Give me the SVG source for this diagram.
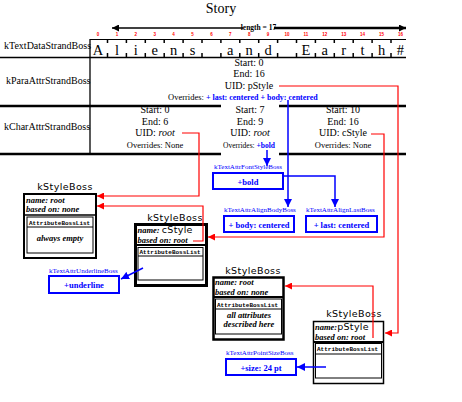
<svg xmlns="http://www.w3.org/2000/svg" width="462" height="402" viewBox="0 0 462 402">
<style>
.s{font-family:"Liberation Serif","Times New Roman",serif;fill:#000}
.lbl{font-size:10px}
.c{text-anchor:middle}
.f10{font-size:10px}
.f85{font-size:8.5px}
.it{font-style:italic}
.b{font-weight:bold}
.idx{font-family:"Liberation Sans",Arial,sans-serif;font-size:4.5px;font-weight:bold;fill:#ff0000;text-anchor:middle}
.ch{font-family:"Liberation Serif",serif;font-size:14.5px;text-anchor:middle;fill:#000}
.ks{font-family:"DejaVu Sans",sans-serif;font-size:9.5px;letter-spacing:0.4px;text-anchor:middle;fill:#000}
.nm{font-family:"Liberation Serif",serif;font-style:italic;font-weight:bold;font-size:8.5px;fill:#000}
.sn{font-family:"DejaVu Sans",sans-serif;font-style:normal;font-weight:normal;font-size:9.5px;letter-spacing:0.3px}
.abl{font-family:"Liberation Mono","Courier New",monospace;font-weight:bold;font-size:6px;fill:#000}
.bl{font-family:"Liberation Serif",serif;font-size:7px;fill:#0000ff}
.bt{font-family:"Liberation Serif",serif;font-size:8.5px;font-weight:bold;fill:#0000ff;text-anchor:middle}
.bbox{fill:none;stroke:#0000ff;stroke-width:2}
.red{fill:none;stroke:#ff0000;stroke-width:1.2}
.blue{fill:none;stroke:#0000ff;stroke-width:1.5}
.line{stroke:#000;fill:none}
.tick{stroke:#000;stroke-width:1.5}
</style>
<defs>
<marker id="ar" viewBox="0 0 10 10" refX="10" refY="5" markerWidth="7" markerHeight="7" orient="auto" markerUnits="userSpaceOnUse"><path d="M0,0 L10,5 L0,10 z" fill="#ff0000"/></marker>
<marker id="ab" viewBox="0 0 10 10" refX="10" refY="5" markerWidth="8" markerHeight="8" orient="auto" markerUnits="userSpaceOnUse"><path d="M0,0 L10,5 L0,10 z" fill="#0000ff"/></marker>
<marker id="ak" viewBox="0 0 10 10" refX="10" refY="5" markerWidth="8" markerHeight="7" orient="auto" markerUnits="userSpaceOnUse"><path d="M0,0 L10,5 L0,10 z" fill="#000"/></marker>
</defs>
<rect width="462" height="402" fill="#fff"/>

<g id="story">
<text class="s" x="221" y="13" text-anchor="middle" font-size="14">Story</text>
<line x1="243" y1="28" x2="112" y2="28" stroke="#000" stroke-width="1.5" marker-end="url(#ak)"/>
<line x1="274" y1="28" x2="406" y2="28" stroke="#000" stroke-width="2.5" marker-end="url(#ak)"/>
<text class="s b" x="258.5" y="30" text-anchor="middle" font-size="7.5">length = 17</text>
<g>
<text class="idx" x="98" y="36">0</text><text class="idx" x="116.9" y="36">1</text><text class="idx" x="135.8" y="36">2</text><text class="idx" x="154.7" y="36">3</text><text class="idx" x="173.6" y="36">4</text><text class="idx" x="192.5" y="36">5</text><text class="idx" x="211.4" y="36">6</text><text class="idx" x="230.3" y="36">7</text><text class="idx" x="249.2" y="36">8</text><text class="idx" x="268.1" y="36">9</text><text class="idx" x="287" y="36">10</text><text class="idx" x="305.9" y="36">11</text><text class="idx" x="324.8" y="36">12</text><text class="idx" x="343.7" y="36">13</text><text class="idx" x="362.6" y="36">14</text><text class="idx" x="381.5" y="36">15</text><text class="idx" x="400.4" y="36">16</text>
</g>
<g>
<text class="ch" x="98" y="55">A</text><text class="ch" x="116.9" y="55">l</text><text class="ch" x="135.8" y="55">i</text><text class="ch" x="154.7" y="55">e</text><text class="ch" x="173.6" y="55">n</text><text class="ch" x="192.5" y="55">s</text><text class="ch" x="230.3" y="55">a</text><text class="ch" x="249.2" y="55">n</text><text class="ch" x="268.1" y="55">d</text><text class="ch" x="305.9" y="55">E</text><text class="ch" x="324.8" y="55">a</text><text class="ch" x="343.7" y="55">r</text><text class="ch" x="362.6" y="55">t</text><text class="ch" x="381.5" y="55">h</text><text class="ch" x="400.4" y="55" fill="#888">#</text>
</g>
<path class="tick" d="M107.5 39v4M126.4 39v4M145.3 39v4M164.2 39v4M183.1 39v4M202 39v4M220.9 39v4M239.8 39v4M258.7 39v4M277.6 39v4M296.5 39v4M315.4 39v4M334.3 39v4M353.2 39v4M372.1 39v4M391 39v4M107.5 53v4M126.4 53v4M145.3 53v4M164.2 53v4M183.1 53v4M202 53v4M220.9 53v4M239.8 53v4M258.7 53v4M277.6 53v4M296.5 53v4M315.4 53v4M334.3 53v4M353.2 53v4M372.1 53v4M391 53v4"/>
<line class="line" x1="90" y1="39.5" x2="406" y2="39.5" stroke-width="1"/>
<line class="line" x1="0" y1="57.5" x2="406" y2="57.5" stroke-width="1.5"/>
<line class="line" x1="90" y1="39" x2="90" y2="154" stroke-width="1.3"/>
<path class="line" stroke-width="2.5" d="M0 106H221M279 106H406M0 154H221M279 154H406"/>
<text class="s lbl" x="4" y="49">kTextDataStrandBoss</text>
<text class="s lbl" x="6" y="84">kParaAttrStrandBoss</text>
<text class="s lbl" x="4" y="130">kCharAttrStrandBoss</text>
</g>

<g id="para">
<text class="s f10 c" x="249" y="65.5">Start: 0</text>
<text class="s f10 c" x="249" y="77">End: 16</text>
<text class="s f10 c" x="249" y="88.5">UID: pStyle</text>
<text class="s f85" x="168" y="100">Overrides:  <tspan fill="#0000ff" font-weight="bold" font-size="8">+ last: centered + body: centered</tspan></text>
</g>

<g id="char1">
<text class="s f10 c" x="155" y="113">Start: 0</text>
<text class="s f10 c" x="155" y="124.5">End: 6</text>
<text class="s f10 c" x="155" y="136">UID: <tspan class="it">root</tspan></text>
<text class="s f85 c" x="155" y="148">Overrides: None</text>
</g>
<g id="char2">
<text class="s f10 c" x="250" y="113">Start: 7</text>
<text class="s f10 c" x="250" y="124.5">End: 9</text>
<text class="s f10 c" x="250" y="136">UID: <tspan class="it">root</tspan></text>
<text class="s c" x="249" y="148" font-size="7.5">Overrides: <tspan fill="#0000ff" font-weight="bold">+bold</tspan></text>
</g>
<g id="char3">
<text class="s f10 c" x="343" y="113">Start: 10</text>
<text class="s f10 c" x="343" y="124.5">End: 16</text>
<text class="s f10 c" x="343" y="136">UID: cStyle</text>
<text class="s f85 c" x="343" y="148">Overrides: None</text>
</g>

<g id="styleRoot1">
<text class="ks" x="65" y="190">kStyleBoss</text>
<rect x="24" y="194" width="72" height="64" fill="none" stroke="#000" stroke-width="2"/>
<line x1="24" y1="215" x2="96" y2="215" stroke="#000" stroke-width="1.5"/>
<rect x="27" y="217" width="66" height="36" fill="none" stroke="#000" stroke-width="1"/>
<line x1="27" y1="227" x2="93" y2="227" stroke="#000" stroke-width="1"/>
<text class="nm" x="26" y="203">name: root</text>
<text class="nm" x="26" y="212">based on: none</text>
<text class="abl" x="29" y="225">AttributeBossList</text>
<text class="nm c" x="60" y="241" font-size="9.5">always empty</text>
</g>

<g id="styleCStyle">
<text class="ks" x="175" y="221">kStyleBoss</text>
<rect x="135.5" y="224.5" width="71" height="61" fill="none" stroke="#000" stroke-width="3"/>
<line x1="135" y1="245" x2="207" y2="245" stroke="#000" stroke-width="2"/>
<rect x="138" y="247.5" width="65" height="32.5" fill="none" stroke="#000" stroke-width="1"/>
<line x1="138" y1="256" x2="203" y2="256" stroke="#000" stroke-width="1"/>
<text class="nm" x="137.5" y="233">name: <tspan class="sn">cStyle</tspan></text>
<text class="nm" x="137.5" y="243">based on: root</text>
<text class="abl" x="139.5" y="254">AttributeBossList</text>
</g>

<g id="styleRoot2">
<text class="ks" x="253" y="274">kStyleBoss</text>
<rect x="213.5" y="277.5" width="70" height="62" fill="none" stroke="#000" stroke-width="2.5"/>
<line x1="213" y1="297" x2="284" y2="297" stroke="#000" stroke-width="2"/>
<rect x="215.5" y="299" width="66" height="35" fill="none" stroke="#000" stroke-width="1"/>
<line x1="215.5" y1="309" x2="281.5" y2="309" stroke="#000" stroke-width="1"/>
<text class="nm" x="215" y="285">name: root</text>
<text class="nm" x="215" y="295">based on: none</text>
<text class="abl" x="217" y="306.5">AttributeBossList</text>
<text class="nm c" x="249" y="318" font-size="9.5">all attributes</text>
<text class="nm c" x="249" y="327" font-size="9.5">described here</text>
</g>

<g id="stylePStyle">
<text class="ks" x="354" y="317">kStyleBoss</text>
<rect x="313.5" y="321.5" width="70" height="62" fill="none" stroke="#000" stroke-width="1.5"/>
<line x1="313" y1="342" x2="384" y2="342" stroke="#000" stroke-width="2"/>
<rect x="315.5" y="343.5" width="66" height="34.5" fill="none" stroke="#000" stroke-width="1"/>
<line x1="315.5" y1="354" x2="381.5" y2="354" stroke="#000" stroke-width="1"/>
<text class="nm" x="315" y="330">name:<tspan class="sn">pStyle</tspan></text>
<text class="nm" x="315" y="340">based on: root</text>
<text class="abl" x="317" y="351">AttributeBossList</text>
</g>

<g id="fontStyle">
<text class="bl" x="214" y="169">kTextAttrFontStyleBoss</text>
<rect class="bbox" x="213" y="173" width="70" height="16"/>
<text class="bt" x="248" y="185">+bold</text>
</g>
<g id="alignBody">
<text class="bl" x="224" y="212">kTextAttrAlignBodyBoss</text>
<rect class="bbox" x="224" y="216" width="70" height="16"/>
<text class="bt" x="259" y="228" font-weight="normal">+ body: centered</text>
</g>
<g id="alignLast">
<text class="bl" x="306" y="212">kTextAttrAlignLastBoss</text>
<rect class="bbox" x="306" y="216" width="71" height="16"/>
<text class="bt" x="341.5" y="228" font-weight="normal">+ last: centered</text>
</g>
<g id="underline">
<text class="bl" x="49" y="273">kTextAttrUnderlineBoss</text>
<rect class="bbox" x="49" y="276" width="70" height="17"/>
<text class="bt" x="84" y="288">+underline</text>
</g>
<g id="pointSize">
<text class="bl" x="226" y="355">kTextAttrPointSizeBoss</text>
<rect class="bbox" x="226" y="359" width="70" height="16"/>
<text class="bt" x="261" y="370.5">+size: 24 pt</text>
</g>

<g id="connectors">
<path class="red" d="M279 86H398V333H385" marker-end="url(#ar)"/>
<path class="red" d="M182 133H199V196H97" marker-end="url(#ar)"/>
<path class="red" d="M371 134H384V237H208" marker-end="url(#ar)"/>
<path class="red" d="M193 241H203V206H97" marker-end="url(#ar)"/>
<path class="red" d="M373 338V286H285" marker-end="url(#ar)"/>
<path class="blue" d="M267 150V166" marker-end="url(#ab)"/>
<path class="blue" d="M288 100V207" marker-end="url(#ab)"/>
<path class="blue" d="M283 176H335V207" marker-end="url(#ab)"/>
<path class="blue" stroke-width="2" d="M143 268L121 279" marker-end="url(#ab)"/>
<path class="blue" stroke-width="2" d="M326 367H297" marker-end="url(#ab)"/>
</g>
</svg>
